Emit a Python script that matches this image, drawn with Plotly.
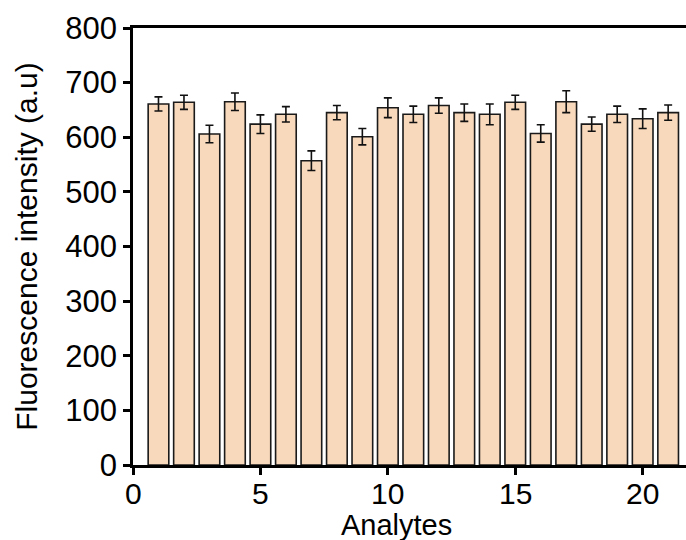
import plotly.graph_objects as go

# Fluorescence response for each analyte (mean and standard deviation)
analytes = list(range(1, 22))
intensity = [661, 664, 606, 665, 624, 642, 557, 645, 601, 654, 642,
             658, 645, 642, 664, 607, 665, 624, 642, 634, 645]
error = [13, 13, 16, 16, 17, 14, 18, 13, 15, 18, 15,
         14, 16, 19, 13, 16, 20, 13, 15, 18, 14]

y_ticks = [0, 100, 200, 300, 400, 500, 600, 700, 800]
x_ticks = [0, 5, 10, 15, 20]

font_family = "Liberation Sans, Arial, sans-serif"

fig = go.Figure(
    go.Bar(
        x=analytes,
        y=intensity,
        width=0.81,
        marker=dict(color="#F9D9BC", line=dict(color="#1a1a1a", width=1.6)),
        error_y=dict(type="data", array=error, visible=True,
                     color="#111111", thickness=1.6, width=4),
    )
)

fig.update_layout(
    width=686,
    height=540,
    margin=dict(l=133, r=0, t=28, b=75),
    plot_bgcolor="white",
    paper_bgcolor="white",
    showlegend=False,
    font=dict(family=font_family, size=30, color="black"),
)

fig.update_xaxes(
    range=[0, 21.7],
    tickvals=x_ticks,
    showticklabels=False,
    ticks="outside",
    ticklen=7,
    tickwidth=2.5,
    tickcolor="black",
    showline=True,
    linewidth=2.5,
    linecolor="black",
    mirror=True,
    showgrid=False,
    zeroline=False,
)

# x tick labels set tight under the tick marks
for v in x_ticks:
    fig.add_annotation(
        text=str(v),
        x=v, xref="x",
        y=0, yref="paper",
        yanchor="middle", yshift=-28,
        showarrow=False,
        font=dict(size=30, family=font_family, color="black"),
    )

# x-axis title placed just under the tick labels
fig.add_annotation(
    text="Analytes",
    x=10.35, xref="x",
    y=0, yref="paper",
    yanchor="middle", yshift=-60,
    showarrow=False,
    font=dict(size=29, family=font_family, color="black"),
)

fig.update_yaxes(
    range=[0, 800],
    tickvals=y_ticks,
    ticks="outside",
    ticklen=7,
    tickwidth=2.5,
    tickcolor="black",
    showline=True,
    linewidth=2.5,
    linecolor="black",
    showgrid=False,
    zeroline=False,
    tickfont=dict(size=31),
    title=dict(text="Fluorescence intensity (a.u)", font=dict(size=30), standoff=19),
)

fig.write_html("out.html")
